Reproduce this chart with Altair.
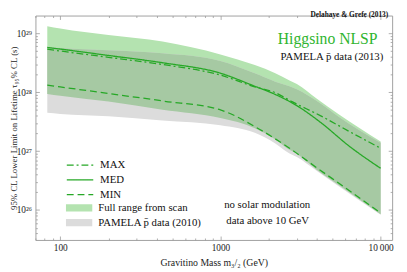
import altair as alt
import pandas as pd

# ---------------- data ----------------
mass_band = [83, 100, 200, 435, 1000, 1640, 2200, 2700, 3000, 4000, 5500, 10000]
full_hi = [1.32e29, 1.2e29, 9.33e28, 7.24e28, 4.37e28, 2.88e28, 2.09e28, 1.58e28, 1.38e28, 7.76e27, 4.17e27, 1.45e27]
full_lo = [9.33e27, 8.71e27, 6.92e27, 5.01e27, 3.63e27, 2.45e27, 1.58e27, 1.05e27, 8.9e26, 4.79e26, 2.63e26, 8.5e25]
pam_hi = [5.89e28, 5.62e28, 5.13e28, 4.57e28, 3.39e28, 2.09e28, 1.51e28, 1.26e28, 1.12e28, 7.08e27, 3.8e27, 1.38e27]
pam_lo = [4.47e27, 4.27e27, 3.89e27, 3.31e27, 2.75e27, 2.04e27, 1.35e27, 9.1e26, 7.9e26, 4.57e26, 2.51e26, 8.3e25]

max_m = [83, 100, 200, 435, 1000, 1640, 2200, 2800, 4200, 6700, 10000]
max_v = [5.37e28, 5.0e28, 3.9e28, 2.95e28, 1.95e28, 1.23e28, 9.8e27, 6.9e27, 4.0e27, 2.0e27, 1.12e27]
med_m = [83, 100, 200, 435, 1000, 1640, 2170, 3000, 4200, 6400, 10000]
med_v = [5.75e28, 5.4e28, 4.2e28, 3.16e28, 2.1e28, 1.26e28, 9.3e27, 5.9e27, 3.1e27, 1.2e27, 5.1e26]
min_m = [83, 100, 200, 435, 1000, 1750, 2700, 4000, 6000, 10000]
min_v = [1.32e28, 1.23e28, 9.5e27, 7.1e27, 5.0e27, 2.35e27, 1.12e27, 5.2e26, 2.4e26, 8.9e25]

series_names = ["MAX", "MED", "MIN"]
band_names = ["Full range from scan", "PAMELA p\u0304 data (2010)"]

x_major = [100, 1000, 10000]
x_minor = [70, 80, 90] + [k * 100 for k in range(2, 10)] + [k * 1000 for k in range(2, 10)]
y_major = [1e26, 1e27, 1e28, 1e29]
y_minor = [k * 1e25 for k in range(4, 10)] + [k * 1e26 for k in range(2, 10)] + \
          [k * 1e27 for k in range(2, 10)] + [k * 1e28 for k in range(2, 10)]

# ---------------- tables ----------------
full_df = pd.DataFrame({"m": mass_band, "lo": full_lo, "hi": full_hi, "band": band_names[0]})
pam_df = pd.DataFrame({"m": mass_band, "lo": pam_lo, "hi": pam_hi, "band": band_names[1]})
ov_df = pd.DataFrame({"m": mass_band,
                      "lo": [max(a, b) for a, b in zip(full_lo, pam_lo)],
                      "hi": [min(a, b) for a, b in zip(full_hi, pam_hi)]})
max_df = pd.DataFrame({"m": max_m, "v": max_v, "series": "MAX"})
med_df = pd.DataFrame({"m": med_m, "v": med_v, "series": "MED"})
min_df = pd.DataFrame({"m": min_m, "v": min_v, "series": "MIN"})

# ---------------- styling ----------------
W, H = 364, 229
FONT = "Liberation Serif"
LINE = "#26a826"
TICK = "#9a9a9a"
LIGHT = "#b4e3b0"
GRAY = "#dcdcdc"
DARK = "#a6c9a3"

xs = alt.Scale(type="log", domain=[70, 11800], nice=False)
ys = alt.Scale(type="log", domain=[3.1e25, 2e29], nice=False)

ylab = ("datum.value > 5e28 ? '10\u00b2\u2079' : datum.value > 5e27 ? '10\u00b2\u2078' : "
        "datum.value > 5e26 ? '10\u00b2\u2077' : '10\u00b2\u2076'")
xlab = "datum.value == 10000 ? '10\u2009000' : format(datum.value, 'd')"


def ax(orient, values, size, labels=False, title=None, **kw):
    return alt.Axis(orient=orient, values=values, tickSize=size, offset=-size, domain=False,
                    grid=False, labels=labels, title=title, tickColor=TICK, tickWidth=0.8, **kw)


ax_x_bot = ax("bottom", x_major, 4, labels=True, labelExpr=xlab, labelFont=FONT, labelFontSize=9.5,
              labelColor="#222", labelPadding=3, title="Gravitino Mass m\u2083/\u2082 (GeV)",
              titleFont=FONT, titleFontSize=10, titleFontWeight="normal", titleColor="#222",
              titlePadding=6)
ax_y_left = ax("left", y_major, 4, labels=True, labelExpr=ylab, labelFont=FONT, labelFontSize=9.5,
               labelColor="#222", labelPadding=4,
               title="95% CL Lower Limit on Lifetime \u03c4\u2089\u2085% CL (s)",
               titleFont=FONT, titleFontSize=9, titleFontWeight="normal", titleColor="#222",
               titleX=-26.5, titleY=114.5, titleBaseline="middle", titleAngle=270)

fill_scale = alt.Scale(domain=band_names, range=[LIGHT, GRAY])
fill_legend = alt.Legend(orient="none", legendX=31, legendY=189, title=None, padding=0,
                         symbolType="M-1,-0.27H1V0.27H-1Z", symbolSize=729, symbolStrokeWidth=0,
                         labelFont=FONT, labelFontSize=11, labelColor="#111", labelOffset=6,
                         clipHeight=14.5, rowPadding=0)
dash_scale = alt.Scale(domain=series_names, range=[[7, 3, 2, 3], [1, 0], [7, 4]])
dash_legend = alt.Legend(orient="none", legendX=31, legendY=145.5, title=None, padding=0,
                         symbolType="stroke", symbolSize=729, symbolStrokeColor=LINE,
                         symbolStrokeWidth=1.3, labelFont=FONT, labelFontSize=11,
                         labelColor="#111", labelOffset=6, clipHeight=14.5, rowPadding=0)

full_layer = alt.Chart(full_df).mark_area(interpolate="monotone").encode(
    x=alt.X("m:Q", scale=xs, axis=ax_x_bot),
    y=alt.Y("hi:Q", scale=ys, axis=ax_y_left),
    y2="lo:Q",
    fill=alt.Fill("band:N", scale=fill_scale, legend=fill_legend),
)
pam_layer = alt.Chart(pam_df).mark_area(interpolate="monotone").encode(
    x=alt.X("m:Q", scale=xs, axis=ax("bottom", x_minor, 2)),
    y=alt.Y("hi:Q", scale=ys, axis=ax("left", y_minor, 2)),
    y2="lo:Q",
    fill=alt.Fill("band:N", scale=fill_scale, legend=fill_legend),
)
ov_layer = alt.Chart(ov_df).mark_area(interpolate="monotone", color=DARK).encode(
    x=alt.X("m:Q", scale=xs, axis=ax("top", x_major, 4)),
    y=alt.Y("hi:Q", scale=ys, axis=ax("right", y_major, 4)),
    y2="lo:Q",
)


def line_layer(df, xaxis, yaxis):
    return alt.Chart(df).mark_line(interpolate="monotone", color=LINE, strokeWidth=1.3).encode(
        x=alt.X("m:Q", scale=xs, axis=xaxis),
        y=alt.Y("v:Q", scale=ys, axis=yaxis),
        strokeDash=alt.StrokeDash("series:N", scale=dash_scale, legend=dash_legend),
    )


max_layer = line_layer(max_df, ax("top", x_minor, 2), ax("right", y_minor, 2))
med_layer = line_layer(med_df, None, None)
min_layer = line_layer(min_df, None, None)


def label(txt, x, y, size, align="center", color="#111", weight="normal", baseline="middle"):
    return alt.Chart(pd.DataFrame({"t": [txt]})).mark_text(
        font=FONT, fontSize=size, align=align, baseline=baseline, color=color, fontWeight=weight
    ).encode(text="t:N", x=alt.value(x), y=alt.value(y))


texts = [
    label("Higgsino NLSP", 349, 24, 16, align="right", color="#2fb52f"),
    label("PAMELA p\u0304 data (2013)", 355, 42, 11, align="right"),
    label("no solar modulation", 236.5, 193, 11),
    label("data above 10 GeV", 237, 210, 11),
    label("Delahaye & Grefe (2013)", 360, -4.5, 7.5, align="right", weight="bold", baseline="top"),
]

chart = alt.layer(
    full_layer, pam_layer, ov_layer, max_layer, med_layer, min_layer, *texts
).resolve_scale(
    x="independent", y="independent"
).resolve_axis(
    x="independent", y="independent"
).properties(
    width=W, height=H,
    autosize=alt.AutoSizeParams(type="none"),
    padding={"left": 28, "top": 5, "right": 7, "bottom": 30},
).configure_view(stroke="#a0a0a0", strokeWidth=1)

chart.save("out.html", embed_options={"renderer": "svg", "actions": False})
